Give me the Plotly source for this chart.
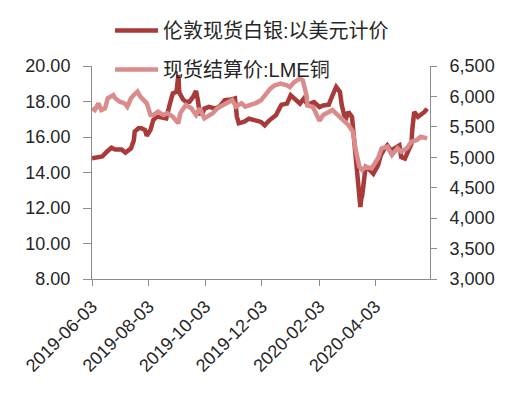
import plotly.graph_objects as go

silver_dates = [
    "2019-06-03", "2019-06-10", "2019-06-14", "2019-06-19", "2019-06-24", "2019-06-28",
    "2019-07-05", "2019-07-09", "2019-07-15", "2019-07-18", "2019-07-19", "2019-07-23",
    "2019-07-26", "2019-07-30", "2019-08-01", "2019-08-05", "2019-08-08", "2019-08-12",
    "2019-08-16", "2019-08-22", "2019-08-26", "2019-08-29", "2019-09-02", "2019-09-04",
    "2019-09-05", "2019-09-09", "2019-09-12", "2019-09-16", "2019-09-20", "2019-09-23",
    "2019-09-25", "2019-09-27", "2019-09-30", "2019-10-02", "2019-10-07", "2019-10-14",
    "2019-10-18", "2019-10-24", "2019-10-31", "2019-11-04", "2019-11-06", "2019-11-08",
    "2019-11-14", "2019-11-19", "2019-11-26", "2019-12-02", "2019-12-06", "2019-12-11",
    "2019-12-18", "2019-12-24", "2019-12-30", "2020-01-03", "2020-01-07", "2020-01-13",
    "2020-01-17", "2020-01-21", "2020-01-28", "2020-02-03", "2020-02-07", "2020-02-13",
    "2020-02-17", "2020-02-21", "2020-02-25", "2020-02-27", "2020-03-02", "2020-03-05",
    "2020-03-09", "2020-03-11", "2020-03-13", "2020-03-16", "2020-03-18", "2020-03-19",
    "2020-03-20", "2020-03-23", "2020-03-24", "2020-03-27", "2020-04-01", "2020-04-06",
    "2020-04-09", "2020-04-13", "2020-04-16", "2020-04-20", "2020-04-23", "2020-04-29",
    "2020-05-01", "2020-05-05", "2020-05-08", "2020-05-12", "2020-05-13", "2020-05-15",
    "2020-05-19", "2020-05-22", "2020-05-26", "2020-05-29",
]
silver_values = [
    14.80, 14.86, 14.90, 15.17, 15.40, 15.30,
    15.30, 15.12, 15.36, 15.80, 16.30, 16.49,
    16.49, 16.40, 16.06, 16.40, 16.96, 17.15,
    17.10, 17.05, 17.90, 18.46, 18.55, 19.50,
    18.50, 18.12, 17.99, 17.99, 18.27, 18.60,
    18.08, 17.33, 17.33, 17.60, 17.70, 17.60,
    17.70, 18.08, 18.12, 18.18, 17.15, 16.77,
    16.86, 17.03, 16.94, 16.85, 16.66, 16.94,
    17.22, 17.82, 17.88, 18.35, 18.16, 17.88,
    18.16, 17.82, 17.97, 17.69, 17.78, 17.82,
    18.35, 18.82, 18.54, 17.78, 16.94, 17.41,
    17.13, 16.10, 14.60, 13.09, 12.06, 12.52,
    12.70, 14.03, 14.30, 14.20, 13.93, 14.40,
    14.97, 15.34, 15.53, 15.25, 15.34, 15.53,
    14.87, 14.78, 15.15, 15.62, 16.47, 17.41,
    17.13, 17.22, 17.41, 17.60,
]

copper_dates = [
    "2019-06-03", "2019-06-06", "2019-06-10", "2019-06-13", "2019-06-17", "2019-06-20",
    "2019-06-26", "2019-06-28", "2019-07-03", "2019-07-08", "2019-07-11", "2019-07-15",
    "2019-07-18", "2019-07-22", "2019-07-25", "2019-07-29", "2019-08-01", "2019-08-05",
    "2019-08-08", "2019-08-13", "2019-08-19", "2019-08-23", "2019-08-29", "2019-09-04",
    "2019-09-06", "2019-09-12", "2019-09-18", "2019-09-23", "2019-09-25", "2019-09-27",
    "2019-10-02", "2019-10-07", "2019-10-11", "2019-10-16", "2019-10-22", "2019-10-28",
    "2019-11-01", "2019-11-05", "2019-11-11", "2019-11-15", "2019-11-21", "2019-11-27",
    "2019-12-02", "2019-12-06", "2019-12-12", "2019-12-17", "2019-12-23", "2019-12-30",
    "2020-01-02", "2020-01-07", "2020-01-13", "2020-01-16", "2020-01-20", "2020-01-21",
    "2020-01-27", "2020-02-03", "2020-02-07", "2020-02-17", "2020-02-21", "2020-02-28",
    "2020-03-05", "2020-03-10", "2020-03-13", "2020-03-17", "2020-03-20", "2020-03-24",
    "2020-03-30", "2020-04-06", "2020-04-10", "2020-04-16", "2020-04-21", "2020-04-27",
    "2020-05-01", "2020-05-07", "2020-05-12", "2020-05-18", "2020-05-22", "2020-05-29",
]
copper_values = [
    5805, 5777, 5887, 5777, 5805, 5969,
    6023, 5969, 5913, 5887, 5831, 5969,
    6023, 6078, 5996, 5941, 5887, 5695,
    5695, 5749, 5695, 5722, 5667, 5558,
    5722, 5859, 5805, 5695, 5749, 5805,
    5641, 5695, 5722, 5805, 5859, 5913,
    5941, 5831, 5887, 5831, 5859, 5895,
    5936, 6018, 6127, 6183, 6210, 6183,
    6155, 6237, 6292, 6264, 6018, 5854,
    5826, 5600, 5695, 5777, 5722, 5613,
    5531, 5421, 5120, 4846, 4791, 4846,
    4818, 4984, 5148, 5174, 5038, 5148,
    5092, 5148, 5256, 5284, 5338, 5311,
]

silver_name = "伦敦现货白银:以美元计价"
copper_name = "现货结算价:LME铜"
x_tick_labels = ["2019-06-03", "2019-08-03", "2019-10-03", "2019-12-03", "2020-02-03", "2020-04-03"]

TEXT = "#262626"
AXIS = "#8c8c8c"
FONT = "Liberation Sans, Noto Sans CJK SC, sans-serif"

fig = go.Figure()
fig.add_trace(go.Scatter(
    x=silver_dates, y=silver_values, name=silver_name, mode="lines",
    line=dict(color="#A83A3A", width=4.5), yaxis="y", legend="legend", showlegend=True,
))
fig.add_trace(go.Scatter(
    x=copper_dates, y=copper_values, name=copper_name, mode="lines",
    line=dict(color="#D98C8B", width=4.5), yaxis="y2", legend="legend2", showlegend=True,
))

tick_font = dict(family=FONT, size=18, color=TEXT)
leg_font = dict(family=FONT, size=20, color=TEXT)

fig.update_layout(
    width=506, height=398,
    showlegend=True,
    margin=dict(l=92, r=76, t=66, b=119, autoexpand=False),
    paper_bgcolor="white", plot_bgcolor="white",
    font=dict(family=FONT, color=TEXT),
    xaxis=dict(
        type="date", range=["2019-06-03", "2020-06-01"],
        tickvals=x_tick_labels, ticktext=x_tick_labels, tickangle=-45,
        showgrid=False, zeroline=False, showline=True, linecolor=AXIS, linewidth=1,
        ticks="outside", ticklen=6, tickcolor=AXIS, tickfont=tick_font, automargin=False,
        ticklabelstandoff=3,
    ),
    yaxis=dict(
        range=[8, 20], dtick=2, tick0=8, tickformat=".2f",
        showgrid=False, zeroline=False, showline=True, linecolor=AXIS, linewidth=1,
        ticks="outside", ticklen=8, tickcolor=AXIS, tickfont=tick_font, automargin=False,
        ticklabelstandoff=9,
    ),
    yaxis2=dict(
        range=[3000, 6500], dtick=500, tick0=3000, tickformat=",",
        overlaying="y", side="right",
        showgrid=False, zeroline=False, showline=True, linecolor=AXIS, linewidth=1,
        ticks="outside", ticklen=6, tickcolor=AXIS, tickfont=tick_font, automargin=False,
        ticklabelstandoff=9,
    ),
    legend=dict(
        x=(110 - 92) / 338, y=(279 - 11) / 213, itemwidth=43,
        xanchor="left", yanchor="top", font=leg_font, bgcolor="rgba(0,0,0,0)",
        visible=True,
    ),
    legend2=dict(
        x=(110 - 92) / 338, y=(279 - 50) / 213, itemwidth=43,
        xanchor="left", yanchor="top", font=leg_font, bgcolor="rgba(0,0,0,0)",
        visible=True,
    ),
)

fig.write_html(
    "out.html",
    config={"displayModeBar": False},
    post_script="document.body.style.margin='0';document.body.style.overflow='hidden';",
)
